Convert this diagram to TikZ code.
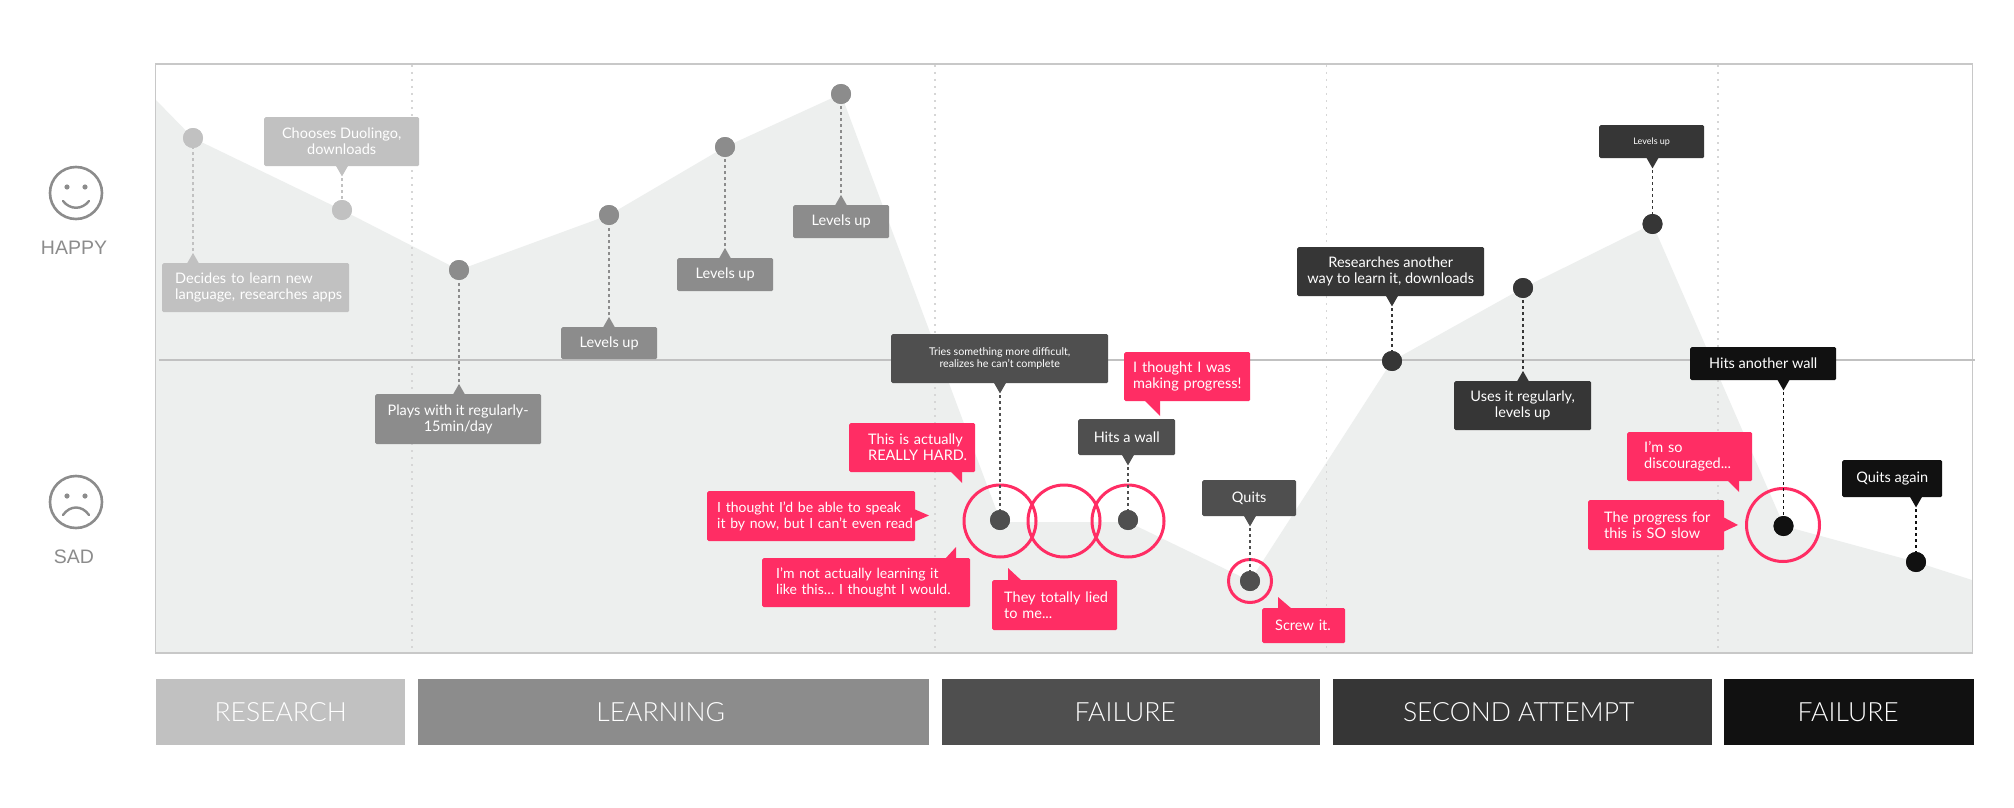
\documentclass[tikz,border=0pt]{standalone}
\usepackage{fontspec}
\setmainfont{Lato}
\newfontfamily\lightf{Lato Light}
\newfontfamily\moodf{Liberation Sans}
\usetikzlibrary{calc}
\definecolor{cA}{HTML}{C1C1C1}
\definecolor{cB}{HTML}{8C8C8C}
\definecolor{cC}{HTML}{4F4F4F}
\definecolor{cD}{HTML}{363636}
\definecolor{cE}{HTML}{111111}
\definecolor{pink}{HTML}{FF2D64}
\definecolor{areac}{HTML}{EDEFEE}
\definecolor{framec}{HTML}{C8C8C8}
\definecolor{sepc}{HTML}{D6D6D6}
\tikzset{
  dotn/.style={circle,fill=#1,minimum size=20pt,inner sep=0pt},
  conn/.style={#1,line width=1.6pt,dash pattern=on 3pt off 3pt},
  bx/.style 2 args={minimum width=#1pt,minimum height=#2pt},
  lt/.style={text width=#1pt,align=left},
  boxn/.style={anchor=north west,fill=#1,rounded corners=1.5pt,text=white,inner xsep=0pt,inner ysep=0pt,align=center,font=\fontsize{14.5}{16}\selectfont},
  pinkn/.style={boxn=pink},
  ring/.style={draw=pink,line width=3pt},
  phase/.style={anchor=north west,fill=#1,text=white,minimum height=66pt,inner sep=0pt,font=\lightf\fontsize{26.5}{28}\selectfont},
  mood/.style={text=cB,font=\moodf\fontsize{19.5}{22}\selectfont},
  facec/.style={draw=cB,line width=2.6pt},
  sepl/.style={draw=sepc,line width=1.2pt,dash pattern=on 2pt off 5pt}
}
\newcommand{\ind}[1]{\hspace*{#1pt}}
\newcommand{\lowr}[2]{\raisebox{-3.5pt}{#1\hspace*{#2pt}}}
% box, dot, colour: pointer on the box, and dashed link to the dot
\newcommand{\linkdown}[3]{%
  \draw[conn=#3] (#1.south -| #2) -- (#2);
  \fill[#3] ($(#1.south -| #2)+(-6,-0.5)$) -- ($(#1.south -| #2)+(6,-0.5)$) -- ($(#1.south -| #2)+(0,10)$) -- cycle;}
\newcommand{\linkup}[3]{%
  \draw[conn=#3] (#1.north -| #2) -- (#2);
  \fill[#3] ($(#1.north -| #2)+(-6,0.5)$) -- ($(#1.north -| #2)+(6,0.5)$) -- ($(#1.north -| #2)+(0,-10)$) -- cycle;}
\begin{document}
\begin{tikzpicture}[x=1pt,y=-1pt]
\useasboundingbox (0,0) rectangle (2014,808);
\fill[white] (0,0) rectangle (2014,808);
% area
\fill[areac] (155,99) -- (193,138) -- (342,210) -- (459,270) -- (609,215) -- (725,147) -- (841,94) -- (1000,520) -- (1000,522) -- (1128,522) -- (1250,581) -- (1392,361) -- (1523,288) -- (1652.5,224) -- (1784,526) -- (1916,562) -- (1972,580) -- (1972,652) -- (155,652) -- cycle;
% separators
\draw[sepl] (412,65) -- (412,650);
\draw[sepl] (935,65) -- (935,650);
\draw[sepl] (1326.5,65) -- (1326.5,650);
\draw[sepl] (1718,65) -- (1718,650);
% frame, middle line
\draw[framec,line width=1.5pt] (155.5,64) rectangle (1972.5,653);
\draw[cA,line width=2pt] (159,360) -- (1975,360);
% dots
\node[dotn=cA] (d1) at (193,138) {};
\node[dotn=cA] (d2) at (342,210) {};
\node[dotn=cB] (d3) at (459,270) {};
\node[dotn=cB] (d4) at (609,215) {};
\node[dotn=cB] (d5) at (725,147) {};
\node[dotn=cB] (d6) at (841,94) {};
\node[dotn=cC] (d7) at (1000,520) {};
\node[dotn=cC] (d8) at (1128,520) {};
\node[dotn=cC] (d9) at (1250,581) {};
\node[dotn=cD] (d10) at (1392,361) {};
\node[dotn=cD] (d11) at (1523,288) {};
\node[dotn=cD] (d12) at (1652.5,224) {};
\node[dotn=cE] (d13) at (1783.5,526) {};
\node[dotn=cE] (d14) at (1916,562) {};
% rings
\node[ring,circle,minimum size=72pt,inner sep=0pt] (r1) at (1000,521) {};
\node[ring,circle,minimum size=72pt,inner sep=0pt] (r2) at (1064,521) {};
\node[ring,circle,minimum size=72pt,inner sep=0pt] (r3) at (1128,521) {};
\node[ring,circle,minimum size=43pt,inner sep=0pt] (r4) at (1250,581) {};
\node[ring,circle,minimum size=73pt,inner sep=0pt] (r5) at (1783,525) {};
% grey and black boxes
\node[boxn=cA,bx={187}{49},lt=187] (b1) at (162,263) {\ind{13}Decides to learn new\\\ind{13}language, researches apps};
\node[boxn=cA,bx={155}{49}] (b2) at (264,117) {Chooses Duolingo,\\downloads};
\node[boxn=cB,bx={166}{50}] (b3) at (375,394) {Plays with it regularly-\\15min/day};
\node[boxn=cB,bx={96}{32}] (b4) at (561,327) {Levels up};
\node[boxn=cB,bx={96}{33}] (b5) at (677,258) {Levels up};
\node[boxn=cB,bx={96}{33}] (b6) at (793,205) {Levels up};
\node[boxn=cC,bx={217}{49},font=\fontsize{10.7}{12}\selectfont] (b7) at (891,334) {Tries something more difficult,\\realizes he can’t complete};
\node[boxn=cC,bx={97}{36}] (b8) at (1078,419) {Hits a wall};
\node[boxn=cC,bx={94}{36}] (b9) at (1202,480) {Quits};
\node[boxn=cD,bx={187}{49}] (b10) at (1297,247) {Researches another\\way to learn it, downloads};
\node[boxn=cD,bx={137}{49}] (b11) at (1454,381) {Uses it regularly,\\levels up};
\node[boxn=cD,bx={105}{33},font=\fontsize{9}{10}\selectfont] (b12) at (1599,125) {Levels up};
\node[boxn=cE,bx={146}{33}] (b13) at (1690,347) {Hits another wall};
\node[boxn=cE,bx={100}{37}] (b14) at (1842,460) {Quits again};
% links
\linkup{b1}{d1}{cA}
\linkdown{b2}{d2}{cA}
\linkup{b3}{d3}{cB}
\linkup{b4}{d4}{cB}
\linkup{b5}{d5}{cB}
\linkup{b6}{d6}{cB}
\linkdown{b7}{d7}{cC}
\linkdown{b8}{d8}{cC}
\linkdown{b9}{d9}{cC}
\linkdown{b10}{d10}{cD}
\linkup{b11}{d11}{cD}
\linkdown{b12}{d12}{cD}
\linkdown{b13}{d13}{cE}
\linkdown{b14}{d14}{cE}
\node[dotn=cA] at (d1) {};
\node[dotn=cA] at (d2) {};
\node[dotn=cB] at (d3) {};
\node[dotn=cB] at (d4) {};
\node[dotn=cB] at (d5) {};
\node[dotn=cB] at (d6) {};
\node[dotn=cC] at (d7) {};
\node[dotn=cC] at (d8) {};
\node[dotn=cC] at (d9) {};
\node[dotn=cD] at (d10) {};
\node[dotn=cD] at (d11) {};
\node[dotn=cD] at (d12) {};
\node[dotn=cE] at (d13) {};
\node[dotn=cE] at (d14) {};
% pink tails
\fill[pink] (1144,400) -- (1160,400) -- (1160,416) -- cycle;
\fill[pink] (950,471) -- (962,471) -- (962,483) -- cycle;
\fill[pink] (914,509) -- (929,515.5) -- (914,522) -- cycle;
\fill[pink] (945,559) -- (956,547) -- (956,559) -- cycle;
\fill[pink] (1008,581) -- (1008,568) -- (1022,581) -- cycle;
\fill[pink] (1278,609) -- (1278,597) -- (1292,609) -- cycle;
\fill[pink] (1727,480) -- (1739,480) -- (1739,492) -- cycle;
\fill[pink] (1723,517) -- (1738,525) -- (1723,532) -- cycle;
% pink boxes
\node[pinkn,bx={126}{49},lt=126] (p1) at (1124,352) {\ind{9}I thought I was\\\ind{9}making progress!};
\node[pinkn,bx={126}{49},lt=126] (p2) at (849,423) {\ind{19}This is actually\\\ind{19}REALLY HARD.};
\node[pinkn,bx={208}{50},lt=208,font=\fontsize{14}{16}\selectfont] (p3) at (707,491) {\ind{10}I thought I’d be able to speak\\\ind{10}it by now, but I can’t even read};
\node[pinkn,bx={208}{49},lt=208,font=\fontsize{14}{16}\selectfont] (p4) at (762,558) {\ind{14}I’m not actually learning it\\\ind{14}like this… I thought I would.};
\node[pinkn,bx={125}{50},lt=125] (p5) at (992,580) {\ind{12}They totally lied\\\ind{12}to me...};
\node[pinkn,bx={83}{35},lt=83] (p6) at (1262,608) {\ind{13}Screw it.};
\node[pinkn,bx={125}{49},lt=125] (p7) at (1627,432) {\ind{17}I’m so\\\ind{17}discouraged...};
\node[pinkn,bx={136}{50},lt=136] (p8) at (1588,500) {\ind{16}The progress for\\\ind{16}this is SO slow};
% phases
\node[phase=cA,minimum width=249pt] (s1) at (156,679) {\lowr{RESEARCH}{0}};
\node[phase=cB,minimum width=511pt] (s2) at (418,679) {\lowr{LEARNING}{26}};
\node[phase=cC,minimum width=378pt] (s3) at (942,679) {\lowr{FAILURE}{12}};
\node[phase=cD,minimum width=379pt] (s4) at (1333,679) {\lowr{SECOND ATTEMPT}{8}};
\node[phase=cE,minimum width=250pt] (s5) at (1724,679) {\lowr{FAILURE}{2}};
% faces
\node[facec,circle,minimum size=52pt,inner sep=0pt] (hf) at (76,193) {};
\fill[cB] (67,187) circle (2.6) (85,187) circle (2.6);
\draw[cB,line width=2.4pt,line cap=round] (63,201) .. controls (70,210) and (82,210) .. (89,201);
\node[mood] (hl) at (74,248) {HAPPY};
\node[facec,circle,minimum size=52pt,inner sep=0pt] (sf) at (76,502) {};
\fill[cB] (67,496) circle (2.6) (85,496) circle (2.6);
\draw[cB,line width=2.4pt,line cap=round] (63,515) .. controls (70,505) and (82,505) .. (89,515);
\node[mood] (sl) at (74,557) {SAD};
\end{tikzpicture}
\end{document}
